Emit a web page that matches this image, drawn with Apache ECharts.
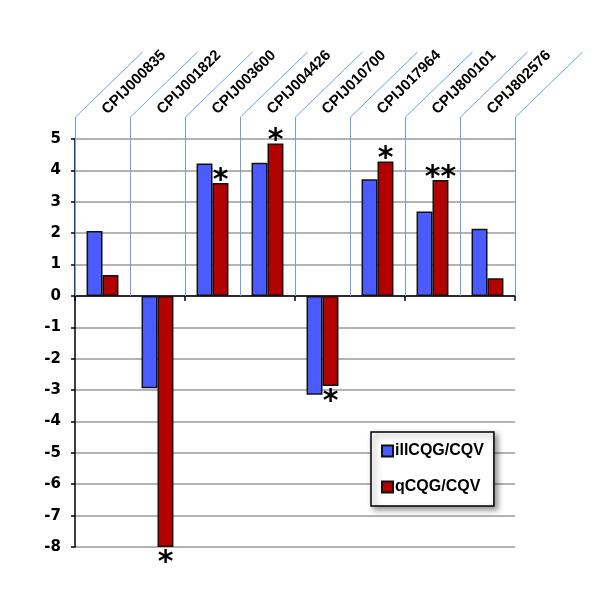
<!DOCTYPE html>
<html>
<head>
<meta charset="utf-8">
<script src="https://cdn.jsdelivr.net/npm/echarts@6/dist/echarts.min.js"></script>
<style>
  html, body { margin: 0; padding: 0; background: #fff; }
  #chart { width: 600px; height: 601px; }
</style>
</head>
<body>
<div id="chart"></div>
<script>
const genes = ['CPIJ000835', 'CPIJ001822', 'CPIJ003600', 'CPIJ004426', 'CPIJ010700', 'CPIJ017964', 'CPIJ800101', 'CPIJ802576'];
const illValues = [2.07, -2.94, 4.22, 4.24, -3.15, 3.72, 2.69, 2.14];
const qValues = [0.67, -8.0, 3.6, 4.86, -2.87, 4.28, 3.69, 0.56];
const stars = ['', '*', '*', '*', '*', '*', '**', ''];
const yTicks = [5, 4, 3, 2, 1, 0, -1, -2, -3, -4, -5, -6, -7, -8];

const chart = echarts.init(document.getElementById('chart'));

const barBorder = { borderColor: '#111', borderWidth: 1.5 };

const option = {
  animation: false,
  grid: { left: 75, right: 85, top: 139, bottom: 54 },
  xAxis: [
    {
      type: 'category',
      data: genes,
      position: 'bottom',
      axisLine: { onZero: true, lineStyle: { color: '#000', width: 1.5 } },
      axisTick: { show: true, length: 5, lineStyle: { color: '#000', width: 1.5 } },
      axisLabel: { show: false },
      splitLine: { show: false }
    },
    {
      type: 'category',
      data: genes,
      position: 'top',
      offset: 22,
      axisLine: { show: false },
      axisTick: { show: false },
      axisLabel: {
        rotate: -45,
        margin: 3,
        color: '#000',
        fontWeight: 'bold',
        fontSize: 15,
        fontFamily: 'Liberation Sans',
        padding: [0, 0, 0, 3]
      }
    }
  ],
  yAxis: {
    type: 'value',
    min: yTicks[yTicks.length - 1],
    max: yTicks[0],
    interval: 1,
    axisLine: { show: true, lineStyle: { color: '#000', width: 1.5 } },
    axisTick: { show: true, length: 4, lineStyle: { color: '#000', width: 1.5 } },
    axisLabel: {
      margin: 14,
      color: '#000',
      fontWeight: 'bold',
      fontSize: 15,
      fontFamily: 'DejaVu Sans'
    },
    splitLine: { lineStyle: { color: '#9a9a9a', width: 1.5 } }
  },
  legend: {
    orient: 'vertical',
    left: 371,
    top: 432,
    padding: [11, 10, 11, 10],
    itemGap: 20,
    itemWidth: 11,
    itemHeight: 11,
    icon: 'rect',
    backgroundColor: '#fff',
    borderColor: '#000',
    borderWidth: 1.5,
    shadowBlur: 6,
    shadowColor: 'rgba(0,0,0,0.45)',
    shadowOffsetX: 3,
    shadowOffsetY: 3,
    textStyle: { color: '#000', fontWeight: 'bold', fontSize: 16, fontFamily: 'Liberation Sans', padding: [0, 0, 0, -3] },
    data: ['illCQG/CQV', 'qCQG/CQV']
  },
  series: [
    {
      name: 'illCQG/CQV',
      type: 'bar',
      data: illValues,
      barGap: '0%',
      barCategoryGap: '42%',
      itemStyle: Object.assign({ color: '#4a5cff' }, barBorder),
      z: 3
    },
    {
      name: 'qCQG/CQV',
      type: 'bar',
      data: qValues.map((v, i) => ({
        value: v,
        label: {
          show: stars[i] !== '',
          formatter: stars[i],
          position: v >= 0 ? 'top' : 'bottom',
          distance: v >= 0 ? -13 : 1,
          fontSize: 30,
          fontWeight: 'bold',
          fontFamily: 'DejaVu Sans',
          color: '#000'
        }
      })),
      itemStyle: Object.assign({ color: '#b30000' }, barBorder),
      z: 3
    }
  ]
};

chart.setOption(option);

// light blue leader lines at the category boundaries, reaching up to the tilted labels
const c0 = chart.convertToPixel({ xAxisIndex: 0 }, 0);
const c1 = chart.convertToPixel({ xAxisIndex: 0 }, 1);
const band = c1 - c0;
const yZero = chart.convertToPixel({ yAxisIndex: 0 }, 0);
const yTop = chart.convertToPixel({ yAxisIndex: 0 }, yTicks[0]);
const leaders = [];
for (let i = 0; i <= genes.length; i++) {
  const bx = Math.round(c0 - band / 2 + i * band) + 0.5;
  leaders.push({
    type: 'polyline',
    z: 1,
    silent: true,
    shape: { points: [[bx, yZero], [bx, yTop - 22], [bx + 67, yTop - 87]] },
    style: { stroke: '#6f9fe0', lineWidth: 1, fill: null }
  });
}
chart.setOption({ graphic: leaders });
</script>
</body>
</html>
